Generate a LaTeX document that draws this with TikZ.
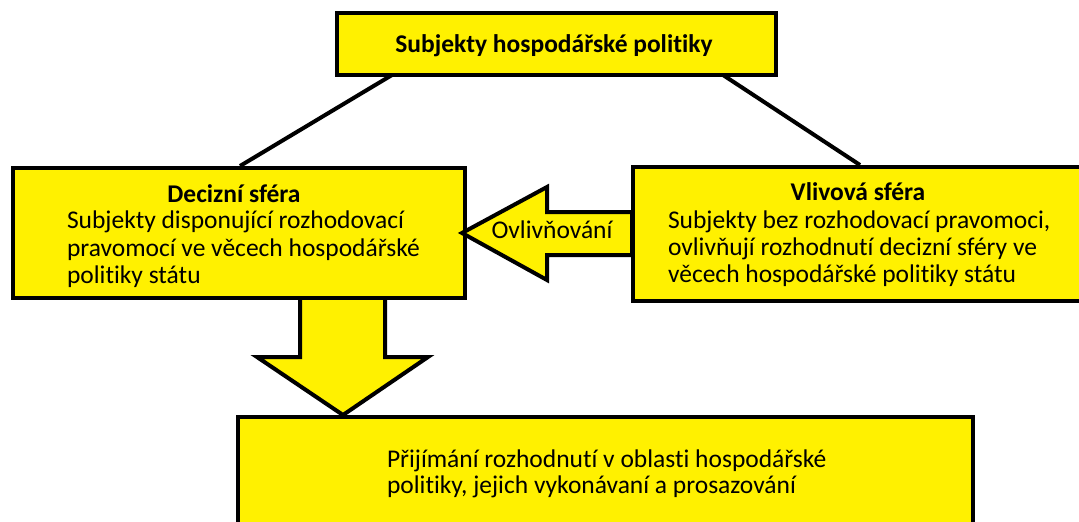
\documentclass[tikz,border=0pt]{standalone}
\usepackage{fontspec}
\setmainfont[Ligatures={NoCommon}]{Carlito}
\definecolor{boxyellow}{RGB}{255,241,0}
\begin{document}
\begin{tikzpicture}[x=1pt,y=-1pt,
  box/.style={draw=black,line width=4.5pt,fill=boxyellow,inner sep=0pt,outer sep=0pt},
  shapeline/.style={draw=black,line width=4pt,fill=boxyellow,line join=miter},
  conn/.style={draw=black,line width=4pt},
  txt/.style={inner sep=0pt,outer sep=0pt,font=\fontsize{25.5}{28}\selectfont},
  btxt/.style={txt,font=\fontsize{25.5}{28}\selectfont\bfseries}]
\clip (0,0) rectangle (1079,522);
\fill[white] (0,0) rectangle (1079,522);
% boxes
\node[box,minimum width=439pt,minimum height=62pt] (top) at (556.5,44) {};
\node[box,minimum width=452pt,minimum height=130pt] (dec) at (239,233) {};
\node[box,minimum width=457pt,minimum height=134pt] (vliv) at (861.5,234) {};
\node[box,minimum width=735pt,minimum height=113pt] (bot) at (605.5,473.5) {};
% connectors
\coordinate (tl) at (392,75);
\coordinate (tr) at (723,75);
\coordinate (dl) at (240,166);
\coordinate (vr) at (860,165);
\draw[conn] (tl) -- (dl);
\draw[conn] (tr) -- (vr);
% influence arrow
\coordinate (atip) at (462,233);
\path[shapeline] (atip) -- (547,187) -- (547,212) -- (632,212) -- (632,255) -- (547,255) -- (547,280) -- cycle;
% down arrow
\coordinate (dtip) at (343,415);
\path[shapeline] (300,300) -- (300,357) -- (257,357) -- (dtip) -- (428,357) -- (385,357) -- (385,300);
% texts
\node[btxt,anchor=base] (toptxt) at (554,52) {Subjekty hospodářské politiky};
\node[btxt,anchor=base] (dectitle) at (234,202) {Decizní sféra};
\node[txt,anchor=base west] (dec1) at (67,228) {Subjekty disponující rozhodovací};
\node[txt,anchor=base west] (dec2) at (67,256) {pravomocí ve věcech hospodářské};
\node[txt,anchor=base west] (dec3) at (67,283) {politiky státu};
\node[btxt,anchor=base] (vlivtitle) at (858,200) {Vlivová sféra};
\node[txt,anchor=base west] (vl1) at (668,228) {Subjekty bez rozhodovací pravomoci,};
\node[txt,anchor=base west] (vl2) at (668,255) {ovlivňují rozhodnutí decizní sféry ve};
\node[txt,anchor=base west] (vl3) at (668,282) {věcech hospodářské politiky státu};
\node[txt,anchor=base] (ovl) at (552,238) {Ovlivňování};
\node[txt,anchor=base west] (bot1) at (387,467) {Přijímání rozhodnutí v oblasti hospodářské};
\node[txt,anchor=base west] (bot2) at (387,493) {politiky, jejich vykonávaní a prosazování};
\end{tikzpicture}
\end{document}
